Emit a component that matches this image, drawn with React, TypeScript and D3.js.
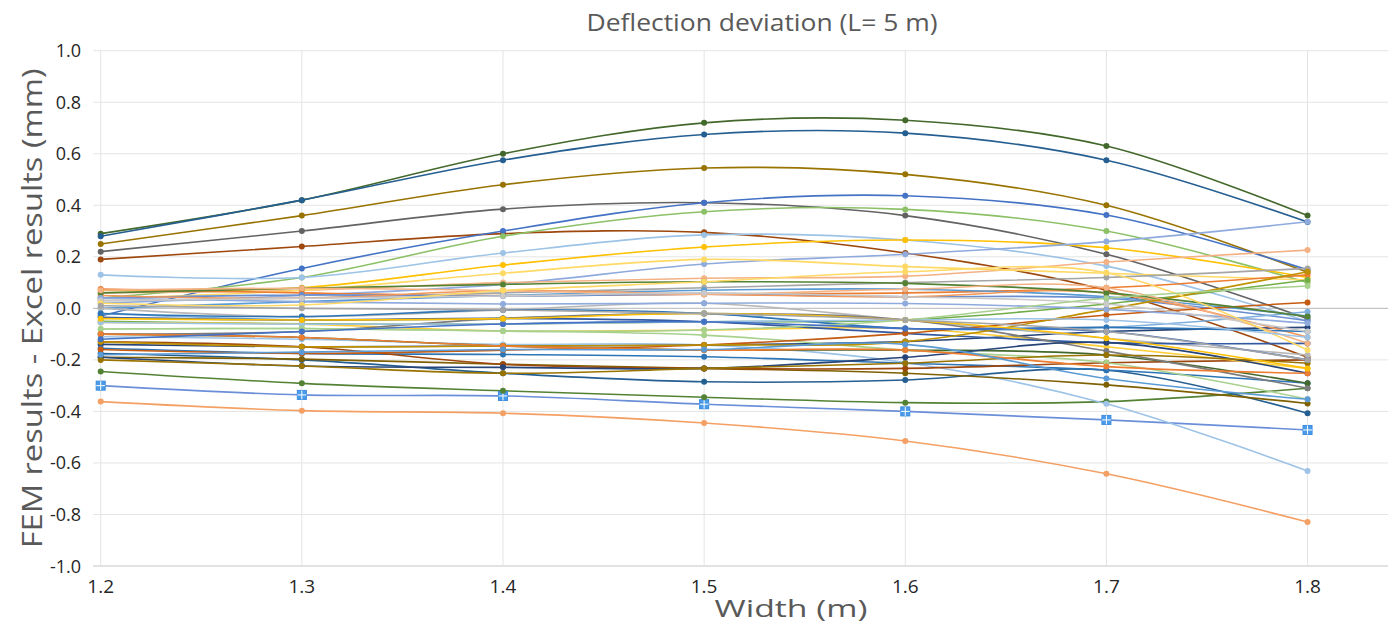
import React from "react";
import * as d3 from "d3";

const widths = [1.2, 1.3, 1.4, 1.5, 1.6, 1.7, 1.8];
const yTicks = [-1.0, -0.8, -0.6, -0.4, -0.2, 0.0, 0.2, 0.4, 0.6, 0.8, 1.0];

const seriesNames = [
  "s1","s2","s3","s4","s5","s6","s7","s8","s9","s10","s11","s12","s13","s14","s15","s16","s17",
  "m1","m2","m3","m4","m5","m7","m8","m9","m10","m11","m12","m13","m14","m15","m16","m17","m18",
  "m19","m20","m21","m22","m23","m24","m25","m26","m27","m28","m29","m30","m31","m32","m33","m34","m35"
];

const seriesColors = [
  "#43682B","#255E91","#997300","#636363","#9E480E","#4472C4","#8CC168","#9DC3E6","#FFC000","#8FAADC","#F4B183","#FFD966",
  "#F4A064","#6A8FD8","#548235","#9DC3E6","#255E91",
  "#ED7D31","#A5A5A5","#5B9BD5","#70AD47","#264478","#7F6000","#2E75B6","#9E480E","#43682B","#698ED0","#F1975A","#B7B7B7",
  "#FFCD33","#7CAFDD","#A9D18E","#335AA1","#C55A11","#7C7C7C","#BF9000","#2E75B6","#548235","#8FAADC","#F4B183","#C9C9C9",
  "#FFD966","#9DC3E6","#A9D18E","#264478","#997300","#ED7D31","#4472C4","#FFC000","#A5A5A5","#5B9BD5"
];

const seriesValues: number[][] = [
  [0.29, 0.42, 0.60, 0.72, 0.73, 0.63, 0.36],
  [0.28, 0.42, 0.575, 0.675, 0.68, 0.575, 0.335],
  [0.25, 0.36, 0.48, 0.545, 0.52, 0.40, 0.14],
  [0.22, 0.30, 0.385, 0.41, 0.36, 0.21, -0.04],
  [0.19, 0.24, 0.29, 0.295, 0.215, 0.07, -0.19],
  [-0.03, 0.155, 0.30, 0.41, 0.437, 0.362, 0.15],
  [0.04, 0.12, 0.28, 0.375, 0.384, 0.30, 0.10],
  [0.13, 0.12, 0.215, 0.285, 0.265, 0.164, -0.05],
  [0.07, 0.08, 0.168, 0.238, 0.265, 0.235, 0.12],
  [0.02, 0.05, 0.093, 0.172, 0.21, 0.259, 0.336],
  [0.06, 0.07, 0.10, 0.117, 0.125, 0.18, 0.226],
  [0.04, 0.07, 0.136, 0.19, 0.162, 0.136, 0.11],
  [-0.362, -0.397, -0.407, -0.445, -0.515, -0.642, -0.829],
  [-0.30, -0.336, -0.34, -0.372, -0.40, -0.433, -0.472],
  [-0.245, -0.291, -0.32, -0.345, -0.366, -0.362, -0.31],
  [-0.11, -0.12, -0.14, -0.142, -0.21, -0.37, -0.631],
  [-0.175, -0.2, -0.252, -0.285, -0.278, -0.24, -0.407],
  [0.075, 0.06, 0.05, 0.055, 0.06, 0.08, 0.13],
  [0.03, 0.04, 0.06, 0.08, 0.10, 0.12, 0.155],
  [0.0, 0.026, 0.05, 0.07, 0.074, 0.045, -0.03],
  [-0.05, -0.06, -0.061, -0.052, -0.045, 0.017, 0.11],
  [-0.14, -0.149, -0.146, -0.142, -0.129, -0.09, -0.074],
  [-0.19, -0.197, -0.217, -0.233, -0.252, -0.297, -0.369],
  [-0.155, -0.175, -0.179, -0.188, -0.213, -0.239, -0.291],
  [-0.13, -0.149, -0.217, -0.233, -0.233, -0.211, -0.2],
  [-0.10, -0.113, -0.146, -0.162, -0.162, -0.181, -0.291],
  [0.04, 0.052, 0.048, 0.055, 0.045, 0.039, -0.048],
  [0.05, 0.039, 0.069, 0.055, 0.045, 0.06, -0.112],
  [0.0, -0.032, -0.006, 0.02, -0.045, -0.116, -0.181],
  [-0.055, -0.062, -0.088, -0.084, -0.078, -0.149, -0.233],
  [-0.02, -0.045, -0.039, -0.02, -0.078, -0.074, -0.013],
  [-0.08, -0.078, -0.088, -0.104, -0.162, -0.211, -0.353],
  [-0.035, -0.045, -0.039, -0.052, -0.097, -0.133, -0.136],
  [-0.16, -0.175, -0.162, -0.142, -0.097, -0.026, 0.023],
  [-0.10, -0.09, -0.039, -0.02, -0.045, -0.166, -0.31],
  [-0.13, -0.149, -0.146, -0.142, -0.129, -0.004, 0.142],
  [-0.02, -0.032, -0.006, -0.02, -0.078, -0.074, -0.09],
  [0.06, 0.078, 0.093, 0.103, 0.097, 0.06, -0.032],
  [0.04, 0.026, 0.017, 0.02, 0.019, -0.004, -0.058],
  [0.07, 0.078, 0.069, 0.055, 0.074, 0.08, -0.136],
  [0.03, 0.039, 0.048, 0.06, 0.045, 0.017, -0.09],
  [0.02, 0.013, 0.069, 0.103, 0.142, 0.138, -0.162],
  [-0.055, -0.062, -0.061, -0.052, -0.045, -0.045, -0.112],
  [-0.08, -0.078, -0.088, -0.084, -0.045, 0.039, 0.087],
  [-0.19, -0.224, -0.229, -0.233, -0.19, -0.133, -0.252],
  [-0.20, -0.224, -0.252, -0.233, -0.213, -0.181, -0.213],
  [-0.10, -0.113, -0.146, -0.162, -0.162, -0.226, -0.252],
  [-0.12, -0.09, -0.061, -0.052, -0.078, -0.09, -0.2],
  [-0.04, -0.045, -0.04, -0.02, -0.045, -0.116, -0.233],
  [0.01, 0.0, -0.006, -0.02, -0.045, -0.09, -0.2],
  [-0.18, -0.17, -0.16, -0.16, -0.14, -0.272, -0.353],
];

const squareSeries = "s14";

const W = 1393;
const H = 627;
const font = "'Open Sans', 'Liberation Sans', sans-serif";

export default function App() {
  const x = d3.scaleLinear().domain([1.2, 1.84]).range([100.7, 1388]);
  const y = d3.scaleLinear().domain([-1, 1]).range([566, 50.7]);
  const line = d3
    .line<number>()
    .x((_, i) => x(widths[i]))
    .y((d) => y(d))
    .curve(d3.curveCatmullRom.alpha(0.5));

  return (
    <svg width={W} height={H} style={{ position: "absolute", left: 0, top: 0, background: "#fff" }}>
      <rect x={0} y={0} width={W} height={H} fill="#fff" />
      {yTicks.map((t) => (
        <line key={"gy" + t} x1={93} x2={1388} y1={y(t)} y2={y(t)} stroke={t === -1 ? "#D9D9D9" : "#E4E4E4"} strokeWidth={t === -1 ? 1.5 : 1} />
      ))}
      {widths.map((w) => (
        <line key={"gx" + w} x1={x(w)} x2={x(w)} y1={y(1)} y2={y(-1)} stroke="#E4E4E4" strokeWidth={1} />
      ))}
      <line x1={93} x2={1388} y1={y(0)} y2={y(0)} stroke="#BFBFBF" strokeWidth={1} />
      {seriesValues.map((vals, si) => (
        <path key={"l" + si} d={line(vals) || ""} fill="none" stroke={seriesColors[si]} strokeWidth={1.6} />
      ))}
      {seriesValues.map((vals, si) =>
        vals.map((v, i) =>
          seriesNames[si] === squareSeries ? (
            <g key={"m" + si + "-" + i} transform={`translate(${x(widths[i])},${y(v)})`}>
              <rect x={-4.5} y={-4.5} width={9} height={9} fill="#4A9BE8" stroke="#3A8BE0" strokeWidth={1} />
              <line x1={-4.5} x2={4.5} y1={0} y2={0} stroke="#fff" strokeWidth={1} />
              <line x1={0} x2={0} y1={-4.5} y2={4.5} stroke="#fff" strokeWidth={1} />
            </g>
          ) : (
            <circle key={"m" + si + "-" + i} cx={x(widths[i])} cy={y(v)} r={3} fill={seriesColors[si]} />
          )
        )
      )}
      {yTicks.map((t) => (
        <text key={"ty" + t} x={81} y={y(t) + 6.5} textAnchor="end" fontFamily={font} fontSize={18} fill="#262626">
          {t.toFixed(1)}
        </text>
      ))}
      {widths.map((w) => (
        <text key={"tx" + w} x={x(w)} y={593} textAnchor="middle" fontFamily={font} fontSize={19} fill="#262626">
          {w.toFixed(1)}
        </text>
      ))}
      <text x={762} y={31} textAnchor="middle" fontFamily={font} fontSize={24} fill="#595959" textLength={351} lengthAdjust="spacingAndGlyphs">
        Deflection deviation (L= 5 m)
      </text>
      <text x={791} y={617} textAnchor="middle" fontFamily={font} fontSize={24} fill="#595959" textLength={153} lengthAdjust="spacingAndGlyphs">
        Width (m)
      </text>
      <text transform={`translate(42,${y(0)}) rotate(-90)`} textAnchor="middle" fontFamily={font} fontSize={27} fill="#595959" textLength={480} lengthAdjust="spacingAndGlyphs">
        FEM results - Excel results (mm)
      </text>
    </svg>
  );
}
